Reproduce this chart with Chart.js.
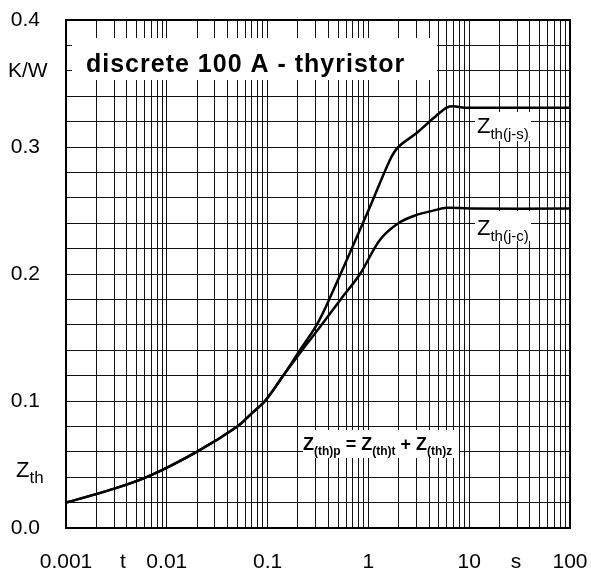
<!DOCTYPE html>
<html>
<head>
<meta charset="utf-8">
<script src="https://cdn.jsdelivr.net/npm/chart.js@4"></script>
<style>
  html, body { margin: 0; padding: 0; background: #fff; }
  #wrap { width: 591px; height: 572px; }
</style>
</head>
<body>
<div id="wrap"><canvas id="zth"></canvas></div>
<script>
// shared part of both curves (t in s, Z in K/W)
const tCommon = [0.001, 0.00274, 0.0063, 0.0198, 0.0501, 0.07, 0.0942, 0.143];
const zCommon = [0.020, 0.030, 0.040, 0.060, 0.080, 0.0905, 0.100, 0.120];
// Z_th(j-s) after the split
const tJS = [0.209, 0.307, 0.406, 1.0, 1.64, 1.98, 3.01, 4.4, 5.98, 7.0, 9.0, 100];
const zJS = [0.140, 0.160, 0.1795, 0.250, 0.290, 0.300, 0.311, 0.3226, 0.331, 0.332, 0.331, 0.331];
// Z_th(j-c) after the split
const tJC = [0.22, 0.344, 0.531, 0.826, 1.30, 1.98, 3.01, 4.4, 6.0, 10, 100];
const zJC = [0.140, 0.160, 0.180, 0.200, 0.2268, 0.240, 0.2465, 0.2499, 0.2522, 0.2515, 0.2515];

const xTickLabels = ['0.001', '0.01', '0.1', '1', '10', '100'];
const yTickLabels = ['0.0', '0.1', '0.2', '0.3', '0.4'];
const xGridSteps = [1, 2, 3, 4, 5, 6, 7, 8, 9];

const FONT = "'Liberation Sans', Arial, Helvetica, sans-serif";

function pts(ts, zs) {
    return ts.map((t, i) => ({ x: t, y: zs[i] }));
}

// draws "main" followed by a lowered "sub", returns end x
function drawSub(ctx, x, y, main, sub, size, subSize, bold) {
    const w = bold ? 'bold ' : '';
    ctx.font = w + size + 'px ' + FONT;
    ctx.fillText(main, x, y);
    x += ctx.measureText(main).width;
    ctx.font = w + subSize + 'px ' + FONT;
    ctx.fillText(sub, x, y + Math.round(size * 0.25));
    return x + ctx.measureText(sub).width;
}

const overlays = {
    id: 'overlays',
    beforeDatasetsDraw(chart) {
        const ctx = chart.ctx;
        ctx.save();
        ctx.fillStyle = '#fff';
        // white boxes over the grid
        ctx.fillRect(72, 38, 365, 42);
        ctx.fillRect(475, 112, 56, 29);
        ctx.fillRect(475, 211, 56, 30);
        ctx.fillRect(303, 430, 156, 28);

        ctx.fillStyle = '#000';
        ctx.textBaseline = 'alphabetic';
        ctx.textAlign = 'left';
        ctx.font = 'bold 25px ' + FONT;
        ctx.letterSpacing = '1px';
        ctx.fillText('discrete 100 A - thyristor', 86, 72);
        ctx.letterSpacing = '0px';

        drawSub(ctx, 477, 133, 'Z', 'th(j-s)', 22, 15, false);
        drawSub(ctx, 477, 235, 'Z', 'th(j-c)', 22, 15, false);

        let x = drawSub(ctx, 303, 450, 'Z', '(th)p', 18, 12, true);
        ctx.font = 'bold 18px ' + FONT;
        ctx.fillText(' = ', x, 450);
        x += ctx.measureText(' = ').width;
        x = drawSub(ctx, x, 450, 'Z', '(th)t', 18, 12, true);
        ctx.font = 'bold 18px ' + FONT;
        ctx.fillText(' + ', x, 450);
        x += ctx.measureText(' + ').width;
        drawSub(ctx, x, 450, 'Z', '(th)z', 18, 12, true);
        ctx.restore();
    },
    afterDatasetsDraw(chart) {
        const ctx = chart.ctx;
        const a = chart.chartArea;
        ctx.save();
        ctx.strokeStyle = '#000';
        ctx.lineWidth = 2;
        ctx.strokeRect(a.left, a.top, a.right - a.left, a.bottom - a.top);

        // axis names
        ctx.fillStyle = '#000';
        ctx.textAlign = 'left';
        ctx.textBaseline = 'middle';
        ctx.font = '21px ' + FONT;
        ctx.fillText('K/W', 8, 71);
        ctx.textAlign = 'center';
        ctx.textBaseline = 'alphabetic';
        ctx.fillText('t', 123, 568);
        ctx.fillText('s', 516, 568);
        ctx.textAlign = 'left';
        drawSub(ctx, 16, 477, 'Z', 'th', 22, 17, false);
        ctx.restore();
    }
};

const line = (data) => ({
    data: data,
    borderColor: '#000',
    borderWidth: 2.5,
    pointRadius: 0,
    fill: false,
    tension: 0.35
});

const noPad = (s) => {
    s.paddingLeft = 0; s.paddingRight = 0;
    s.paddingTop = 0; s.paddingBottom = 0;
};

new Chart(document.getElementById('zth'), {
    type: 'line',
    data: {
        datasets: [
            line(pts(tCommon.concat(tJS), zCommon.concat(zJS))),
            line(pts(tCommon.concat(tJC), zCommon.concat(zJC)))
        ]
    },
    options: {
        responsive: true,
        maintainAspectRatio: false,
        animation: false,
        layout: { padding: { top: 20, right: 21, left: 0, bottom: 0 } },
        plugins: { legend: { display: false }, tooltip: { enabled: false } },
        scales: {
            x: {
                type: 'logarithmic',
                min: 0.001,
                max: 100,
                afterBuildTicks: (s) => {
                    const ticks = [];
                    for (let e = -3; e < 2; e++) {
                        for (const m of xGridSteps) ticks.push({ value: m * Math.pow(10, e) });
                    }
                    ticks.push({ value: 100 });
                    s.ticks = ticks;
                },
                afterFit: (s) => { s.height = 44; noPad(s); },
                grid: { color: '#111', lineWidth: 1, drawTicks: false },
                border: { display: false },
                ticks: {
                    autoSkip: false,
                    maxRotation: 0,
                    padding: 22,
                    color: '#000',
                    font: { family: FONT, size: 21 },
                    callback: (v) => {
                        const l = Math.log10(v);
                        if (Math.abs(l - Math.round(l)) < 1e-9) return xTickLabels[Math.round(l) + 3];
                        return '';
                    }
                }
            },
            y: {
                type: 'linear',
                min: 0,
                max: 0.4,
                afterFit: (s) => { s.width = 66; noPad(s); },
                grid: { color: '#111', lineWidth: 1, drawTicks: false },
                border: { display: false },
                ticks: {
                    stepSize: 0.02,
                    autoSkip: false,
                    padding: 26,
                    color: '#000',
                    font: { family: FONT, size: 21 },
                    callback: (v) => {
                        const k = v * 10;
                        if (Math.abs(k - Math.round(k)) < 1e-6) return yTickLabels[Math.round(k)];
                        return '';
                    }
                }
            }
        }
    },
    plugins: [overlays]
});
</script>
</body>
</html>
